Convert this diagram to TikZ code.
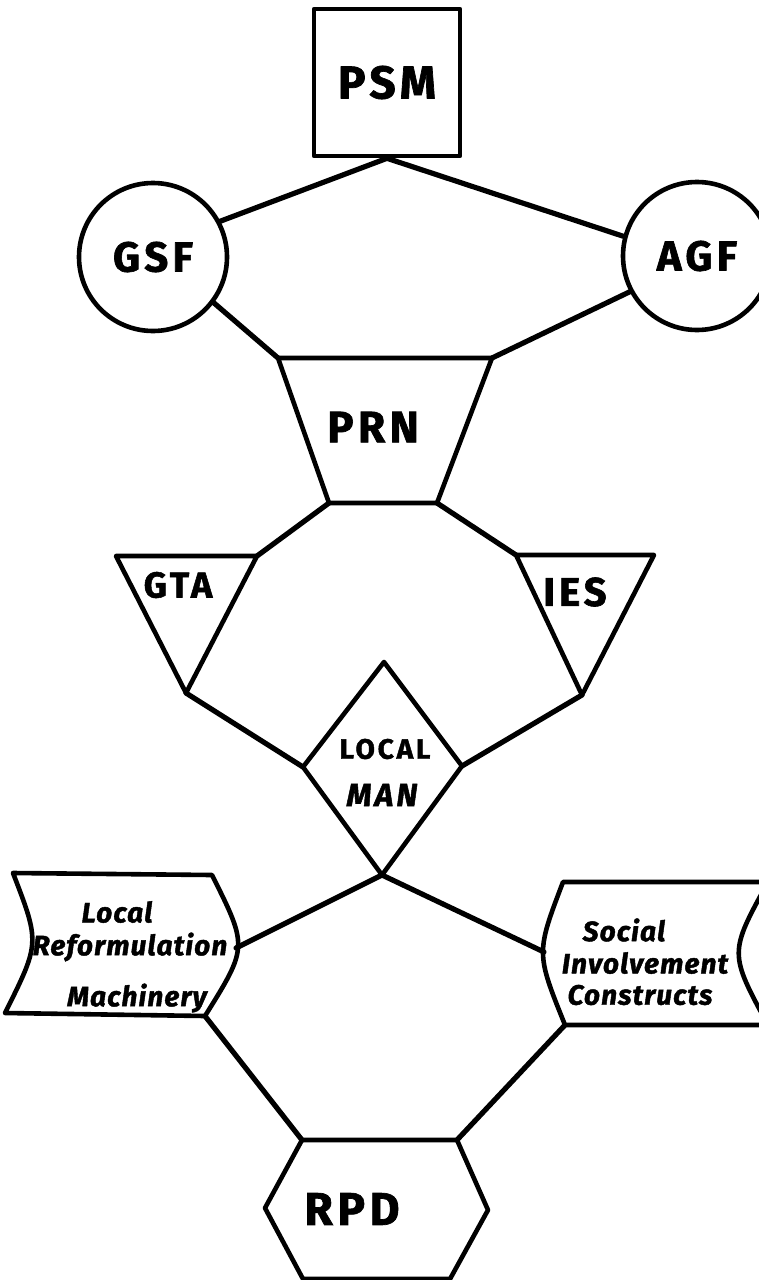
\documentclass[tikz,border=0pt]{standalone}
\usepackage{fontspec}
\setmainfont{Fira Sans}
\newfontfamily\hand{Fira Sans}[LetterSpace=10, FakeBold=1.5]
\newfontfamily\handit{Fira Sans}[LetterSpace=4, FakeBold=1.5]
\newcommand\fsz[1]{\fontsize{#1}{#1}\selectfont}
\begin{document}
\begin{tikzpicture}[x=1pt,y=-1pt,
  shapeline/.style={line width=4.6pt, line join=round},
  link/.style={line width=5.2pt, line cap=round},
  lab/.style={inner sep=0pt, font=\hand\bfseries},
  sublab/.style={inner sep=0pt, font=\handit\bfseries\itshape\fsz{28}}
]
\useasboundingbox (0,0) rectangle (759,1280);
\fill[white] (0,0) rectangle (759,1280);

% PSM square
\node[shapeline, draw, minimum width=146pt, minimum height=147pt, inner sep=0pt,
      font=\hand\bfseries\fsz{46}] (psm) at (387,82.5) {PSM};

% circles
\node[shapeline, draw, circle, minimum size=148pt, inner sep=0pt,
      font=\hand\bfseries\fsz{42}] (gsf) at (153,257) {GSF};
\node[shapeline, draw, circle, minimum size=148pt, inner sep=0pt,
      font=\hand\bfseries\fsz{42}] (agf) at (697,256) {AGF};

% PRN trapezoid
\coordinate (prnTL) at (278,358);
\coordinate (prnTR) at (492,358);
\coordinate (prnBR) at (437,503);
\coordinate (prnBL) at (329,503);
\draw[shapeline] (prnTL) -- (prnTR) -- (prnBR) -- (prnBL) -- cycle;
\node[lab, font=\hand\bfseries\fsz{44}] (prn) at (373,427) {PRN};

% GTA triangle
\coordinate (gtaL) at (116,556);
\coordinate (gtaR) at (257,556);
\coordinate (gtaB) at (186,693);
\draw[shapeline] (gtaL) -- (gtaR) -- (gtaB) -- cycle;
\node[lab, font=\hand\bfseries\fsz{36}] (gta) at (178,585) {GTA};

% IES triangle
\coordinate (iesL) at (516,555);
\coordinate (iesR) at (654,555);
\coordinate (iesB) at (582,695);
\draw[shapeline] (iesL) -- (iesR) -- (iesB) -- cycle;
\node[lab, font=\hand\bfseries\fsz{40}] (ies) at (575,592) {IES};

% LOCAL MAN diamond
\coordinate (lmT) at (384,662);
\coordinate (lmR) at (462,766);
\coordinate (lmB) at (382,875);
\coordinate (lmL) at (303,767);
\draw[shapeline] (lmT) -- (lmR) -- (lmB) -- (lmL) -- cycle;
\node[lab, font=\hand\bfseries\fsz{28}] (local) at (385,749) {LOCAL};
\node[lab, font=\hand\bfseries\itshape\fsz{32}] (man) at (382,795) {MAN};

% Local Reformulation Machinery
\coordinate (lrmTL) at (13,873);
\coordinate (lrmTR) at (212,875);
\coordinate (lrmBR) at (205,1016);
\coordinate (lrmBL) at (5,1013);
\coordinate (lrmE) at (236,948);
\draw[shapeline] (lrmTL) -- (lrmTR) .. controls (248,947) .. (lrmBR)
  -- (lrmBL) .. controls (40,943) .. (lrmTL) -- cycle;
\node[sublab] (lrm1) at (117,912) {Local};
\node[sublab] (lrm2) at (130,947) {Reformulation};
\node[sublab] (lrm3) at (137,998) {Machinery};

% Social Involvement Constructs
\coordinate (sicTL) at (563,882);
\coordinate (sicTR) at (768,882);
\coordinate (sicBR) at (768,1025);
\coordinate (sicBL) at (565,1025);
\coordinate (sicW) at (544,952);
\draw[shapeline] (sicTL) -- (sicTR) .. controls (729,953) .. (sicBR)
  -- (sicBL) .. controls (536,953) .. (sicTL) -- cycle;
\node[sublab] (sic1) at (624,930) {Social};
\node[sublab] (sic2) at (645,963) {Involvement};
\node[sublab] (sic3) at (640,995) {Constructs};

% RPD hexagon
\coordinate (rpdTL) at (302,1140);
\coordinate (rpdTR) at (457,1140);
\coordinate (rpdR) at (488,1210);
\coordinate (rpdBR) at (450,1279);
\coordinate (rpdBL) at (303,1279);
\coordinate (rpdL) at (265,1208);
\draw[shapeline] (rpdTL) -- (rpdTR) -- (rpdR) -- (rpdBR) -- (rpdBL) -- (rpdL) -- cycle;
\node[lab, font=\hand\bfseries\fsz{46}] (rpd) at (352,1209) {RPD};

% connectors
\draw[link] (psm.south) -- (gsf.28);
\draw[link] (psm.south) -- (agf.165);
\draw[link] (gsf.-37) -- (prnTL);
\draw[link] (agf.-152) -- (prnTR);
\draw[link] (prnBL) -- (gtaR);
\draw[link] (prnBR) -- (iesL);
\draw[link] (gtaB) -- (lmL);
\draw[link] (iesB) -- (lmR);
\draw[link] (lmB) -- (lrmE);
\draw[link] (lmB) -- (sicW);
\draw[link] (lrmBR) -- (rpdTL);
\draw[link] (sicBL) -- (rpdTR);
\end{tikzpicture}
\end{document}
